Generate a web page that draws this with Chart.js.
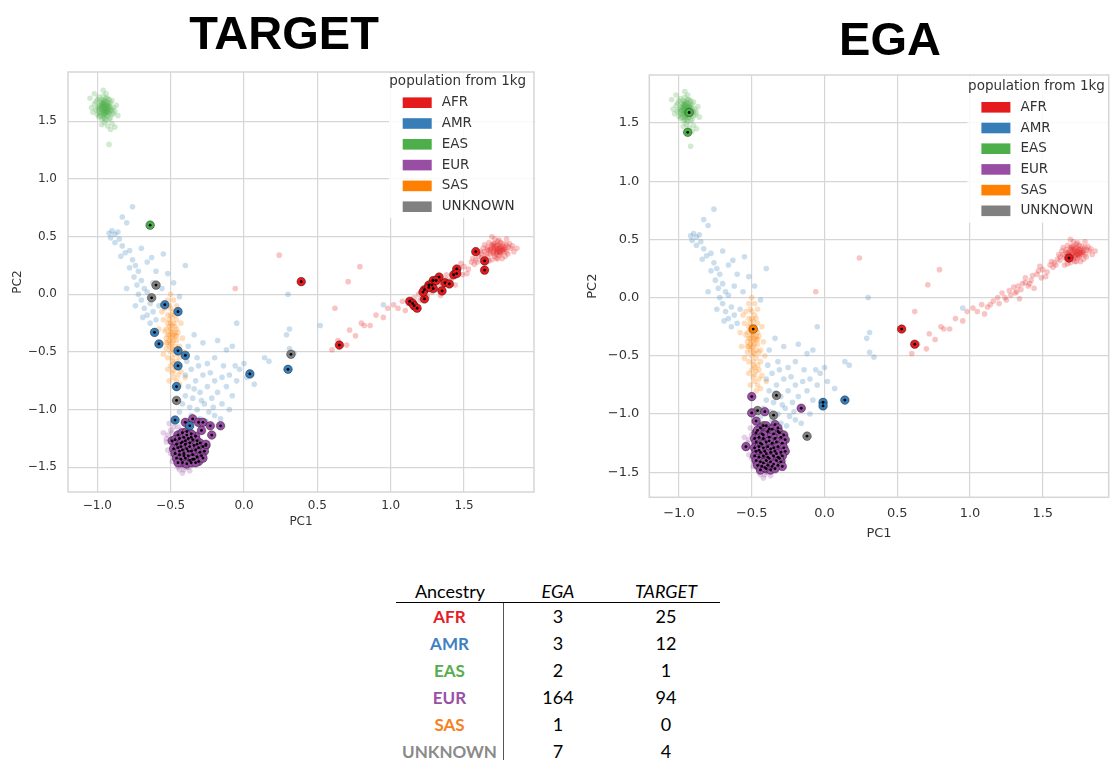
<!DOCTYPE html>
<html lang="en">
<head>
<meta charset="UTF-8">
<title>PCA TARGET vs EGA</title>
<script src="https://cdn.jsdelivr.net/npm/chart.js"></script>
<style>
  body { margin:0; background:#fff; width:1114px; height:760px; position:relative; overflow:hidden; }
  canvas { position:absolute; }
  .big { position:absolute; font-family:"Liberation Sans", Arial, sans-serif; font-weight:bold; font-size:47px; line-height:47px; color:#000; transform:translateX(-50%); white-space:nowrap; }
  #tbl { position:absolute; left:396px; top:581px; width:324px; font-family:Lato, "Open Sans", sans-serif; color:#000; }
  .row { display:flex; height:27px; line-height:27px; }
  .row.head { height:21px; line-height:21px; border-bottom:1.5px solid #000; }
  .cell { width:108px; text-align:center; font-size:18px; box-sizing:border-box; }
  .head .cell.it { font-style:italic; }
  .row.body .cell:first-child { border-right:1.5px solid #555; font-weight:bold; font-size:17px; }
</style>
</head>
<body>
<canvas id="targetChart" width="545" height="535" style="left:0;top:0"></canvas>
<canvas id="egaChart" width="534" height="545" style="left:580px;top:0"></canvas>
<div class="big" style="left:284px;top:9px">TARGET</div>
<div class="big" style="left:890px;top:15px">EGA</div>
<div id="tbl"></div>
<script>
// legend / table categories
var populations = ['AFR', 'AMR', 'EAS', 'EUR', 'SAS', 'UNKNOWN'];
var popColors = ['#e41a1c', '#377eb8', '#4daf4a', '#984ea3', '#ff7f00', '#808080'];
var tableColors = ['#e3202a', '#3f80c2', '#56ad4e', '#9a50a6', '#f5821f', '#8a8a8a'];
var egaCounts = [3, 3, 2, 164, 1, 7];
var targetCounts = [25, 12, 1, 94, 0, 4];
var xTicks = [-1.0, -0.5, 0.0, 0.5, 1.0, 1.5];
var yTicks = [-1.5, -1.0, -0.5, 0.0, 0.5, 1.0, 1.5];

// 1kg reference samples (faint background)
var refEAS = [[-0.95,1.60],[-0.97,1.62],[-0.93,1.58],[-0.96,1.66],[-0.99,1.63],[-0.92,1.63],[-0.94,1.55],[-0.98,1.57],[-0.91,1.60],[-0.95,1.68],
  [-1.01,1.60],[-0.97,1.52],[-0.93,1.70],[-0.90,1.56],[-0.96,1.59],[-0.94,1.64],[-0.98,1.67],[-1.02,1.65],[-0.92,1.52],[-0.89,1.62],
  [-0.95,1.49],[-0.99,1.54],[-0.93,1.61],[-0.96,1.72],[-1.00,1.69],[-0.91,1.66],[-0.94,1.58],[-0.97,1.60],[-0.88,1.59],[-1.03,1.58],
  [-0.95,1.63],[-0.93,1.46],[-0.97,1.47],[-0.90,1.68],[-0.99,1.60],[-0.94,1.74],[-0.92,1.57],[-0.96,1.55],[-0.98,1.64],[-0.95,1.57],
  [-0.93,1.66],[-1.00,1.56],[-0.91,1.53],[-0.97,1.69],[-0.94,1.61],[-0.87,1.64],[-1.04,1.62],[-0.96,1.63],[-0.92,1.60],[-0.95,1.53],
  [-0.94,1.62],[-0.96,1.61],[-0.93,1.59],[-0.97,1.65],[-0.95,1.66],[-0.91,1.43],[-0.92,1.30],
  [-0.95,1.61],[-0.96,1.64],[-0.94,1.59],[-0.97,1.58],[-0.93,1.63],[-0.95,1.56],[-0.98,1.61],[-0.92,1.65],[-0.96,1.57],[-0.94,1.67],
  [-0.97,1.63],[-0.93,1.55],[-0.99,1.58],[-0.91,1.62],[-0.95,1.65],[-0.96,1.53],[-0.94,1.70],[-1.00,1.62],[-0.92,1.58],[-0.97,1.66],
  [-0.95,1.59],[-0.93,1.64],[-0.98,1.55],[-0.90,1.60],[-0.96,1.68],[-1.01,1.67],[-0.89,1.57],[-0.94,1.51],[-0.99,1.71],[-0.92,1.69],
  [-1.05,1.70],[-0.86,1.55],[-0.90,1.48],[-1.02,1.74],[-0.88,1.45],[-0.96,1.77]];
var refAFR = [[1.72,0.38],[1.70,0.40],[1.75,0.36],[1.68,0.35],[1.74,0.42],[1.78,0.39],[1.66,0.41],[1.71,0.33],[1.77,0.44],[1.73,0.46],
  [1.69,0.30],[1.80,0.35],[1.64,0.37],[1.76,0.31],[1.82,0.40],[1.67,0.45],[1.72,0.42],[1.74,0.34],[1.70,0.37],[1.79,0.43],
  [1.62,0.32],[1.65,0.28],[1.60,0.33],[1.84,0.37],[1.71,0.48],[1.77,0.37],[1.73,0.39],[1.68,0.39],[1.75,0.41],[1.69,0.43],
  [1.81,0.44],[1.63,0.40],[1.58,0.30],[1.66,0.33],[1.78,0.33],[1.74,0.47],[1.70,0.44],[1.76,0.40],[1.72,0.35],[1.83,0.42],
  [1.61,0.37],[1.57,0.26],[1.55,0.28],[1.67,0.29],[1.79,0.48],[1.86,0.40],[1.73,0.31],[1.64,0.43],[1.69,0.50],[1.75,0.38],
  [1.72,0.40],[1.74,0.37],[1.70,0.35],[1.76,0.42],[1.71,0.39],[1.73,0.43],[1.69,0.41],[1.75,0.35],[1.78,0.41],[1.67,0.38],
  [1.72,0.36],[1.77,0.39],[1.74,0.40],[1.70,0.42],[1.73,0.37],[1.68,0.37],[1.76,0.38],[1.71,0.44],[1.79,0.37],[1.65,0.35],
  [1.80,0.41],[1.66,0.39],[1.72,0.31],[1.75,0.45],[1.62,0.35],[1.59,0.28],[1.56,0.31],[1.53,0.22],[1.47,0.23],[1.43,0.19],
  [1.38,0.13],[1.35,0.07],[1.31,0.04],[1.27,0.06],[1.24,0.00],[1.19,0.00],[1.14,-0.06],[1.41,0.12],[1.49,0.17],[1.33,0.10],
  [1.50,0.24],[1.46,0.20],[1.52,0.18],[1.42,0.15],[1.48,0.27],[1.40,0.10],[1.36,0.12],[1.44,0.08],[1.32,0.05],[1.38,0.17],
  [1.28,0.02],[1.30,0.09],[1.34,-0.01],[1.25,-0.02],[1.22,0.04],[1.20,-0.05],[1.16,-0.03],[1.12,-0.08],[1.08,-0.06],[1.05,-0.12],
  [1.10,-0.14],[1.02,-0.09],[0.98,-0.12],[0.95,-0.20],[0.90,-0.18],[0.86,-0.27],[0.80,-0.25],[0.76,-0.36],[0.72,-0.31],[0.70,-0.44],
  [0.64,-0.40],[0.60,-0.48],[0.79,0.24],[0.71,0.11],[0.62,-0.12],[0.82,-0.27],[0.24,0.34],[-0.06,0.05]];
var refSAS = [[-0.50,-0.30],[-0.48,-0.35],[-0.52,-0.25],[-0.46,-0.40],[-0.51,-0.45],[-0.49,-0.20],[-0.53,-0.38],[-0.47,-0.28],[-0.50,-0.50],[-0.45,-0.33],
  [-0.54,-0.32],[-0.48,-0.15],[-0.52,-0.55],[-0.46,-0.58],[-0.50,-0.62],[-0.49,-0.42],[-0.44,-0.45],[-0.55,-0.22],[-0.51,-0.10],[-0.47,-0.52],
  [-0.53,-0.47],[-0.49,-0.68],[-0.45,-0.70],[-0.51,-0.75],[-0.47,-0.80],[-0.56,-0.15],[-0.52,-0.05],[-0.48,-0.05],[-0.42,-0.38],[-0.43,-0.25],
  [-0.57,-0.42],[-0.50,-0.38],[-0.48,-0.25],[-0.50,-0.18],[-0.46,-0.22],[-0.53,-0.30],[-0.49,-0.55],[-0.45,-0.62],[-0.52,-0.65],[-0.44,-0.55],
  [-0.47,-0.45],[-0.51,-0.35],[-0.54,-0.12],[-0.58,-0.30],[-0.41,-0.50],[-0.48,-0.72],[-0.44,-0.78],[-0.50,0.00],[-0.55,-0.52],[-0.46,-0.10],
  [-0.49,-0.32],[-0.47,-0.36],[-0.51,-0.28],[-0.49,-0.47],[-0.46,-0.30],[-0.52,-0.42],[-0.48,-0.60],[-0.50,-0.25],[-0.43,-0.67],[-0.40,-0.72],
  [-0.49,-0.37],[-0.50,-0.33],[-0.48,-0.40],[-0.51,-0.40],[-0.47,-0.33],[-0.50,-0.43],[-0.49,-0.27],[-0.52,-0.35],[-0.48,-0.48],[-0.46,-0.36],
  [-0.51,-0.22],[-0.49,-0.58],[-0.47,-0.63],[-0.53,-0.42],[-0.45,-0.47],[-0.50,-0.12],[-0.47,-0.18],[-0.52,-0.18],[-0.48,-0.66],[-0.46,-0.75]];
var refEUR = [[-0.45,-1.20],[-0.50,-1.18],[-0.48,-1.25],[-0.52,-1.22],[-0.46,-1.30],[-0.42,-1.35],[-0.44,-1.40],[-0.47,-1.36],[-0.40,-1.45],[-0.43,-1.48],
  [-0.38,-1.50],[-0.41,-1.52],[-0.36,-1.45],[-0.49,-1.32],[-0.53,-1.28],[-0.45,-1.15],[-0.51,-1.12],[-0.55,-1.20],[-0.48,-1.42],[-0.46,-1.46],
  [-0.39,-1.40],[-0.34,-1.42],[-0.32,-1.38],[-0.30,-1.45],[-0.44,-1.26],[-0.40,-1.30],[-0.50,-1.38],[-0.42,-1.55],[-0.37,-1.33],[-0.47,-1.10],
  [-0.43,-1.18],[-0.35,-1.48],[-0.45,-1.50],[-0.52,-1.35],[-0.28,-1.40],[-0.38,-1.25],[-0.49,-1.45],[-0.41,-1.42],[-0.46,-1.22],[-0.39,-1.47],
  [-0.44,-1.33],[-0.47,-1.28],[-0.42,-1.44],[-0.46,-1.40],[-0.49,-1.20],[-0.53,-1.25],[-0.48,-1.15],[-0.40,-1.50],[-0.37,-1.53],[-0.44,-1.52],
  [-0.50,-1.28],[-0.36,-1.38]];
var refAMR = [[-0.92,0.53],[-0.90,0.55],[-0.88,0.52],[-0.86,0.54],[-0.91,0.49],[-0.88,0.45],[-0.85,0.48],[-0.76,0.76],[-0.83,0.67],[-0.80,0.62],
  [-0.83,0.42],[-0.81,0.36],[-0.84,0.33],[-0.78,0.38],[-0.76,0.30],[-0.74,0.25],[-0.78,0.23],[-0.72,0.20],[-0.75,0.15],[-0.70,0.12],
  [-0.73,0.08],[-0.68,0.05],[-0.72,0.00],[-0.66,0.02],[-0.70,-0.05],[-0.64,-0.08],[-0.68,-0.12],[-0.62,-0.15],[-0.66,-0.18],[-0.60,-0.22],
  [-0.64,-0.25],[-0.58,-0.10],[-0.56,0.05],[-0.60,0.20],[-0.63,0.32],[-0.55,0.35],[-0.70,0.40],[-0.66,0.28],[-0.52,0.18],[-0.48,0.10],
  [-0.40,0.25],[-0.44,-0.02],[-0.62,0.10],[-0.80,0.05],[-0.74,-0.10],[-0.69,-0.20],
  [-0.40,-0.70],[-0.36,-0.65],[-0.38,-0.80],[-0.33,-0.75],[-0.30,-0.85],[-0.35,-0.90],[-0.28,-0.70],[-0.25,-0.80],[-0.22,-0.90],[-0.27,-0.95],
  [-0.32,-1.00],[-0.36,-1.05],[-0.30,-1.08],[-0.24,-1.02],[-0.20,-0.75],[-0.18,-0.85],[-0.15,-0.95],[-0.12,-0.80],[-0.10,-0.70],[-0.08,-0.88],
  [-0.05,-0.75],[-0.03,-0.65],[-0.14,-0.62],[-0.20,-0.55],[-0.25,-0.60],[-0.32,-0.55],[-0.38,-0.45],[-0.34,-0.35],[-0.28,-0.42],[-0.18,-0.40],
  [-0.42,-0.95],[-0.44,-1.02],[-0.40,-0.88],[-0.26,-1.10],[-0.20,-1.05],[-0.10,-1.00],[-0.06,-0.62],[0.00,-0.60],[0.02,-0.72],[-0.16,-1.08],
  [-0.39,-0.58],[-0.12,-0.48],[-0.08,-0.45],[-0.34,-0.82],[-0.29,-0.92],[-0.23,-0.68],[-0.37,-0.98],[-0.31,-0.62],[-0.15,-0.72],[-0.21,-0.98],
  [0.17,-0.58],[0.29,-0.35],[0.31,-0.47],[0.31,-0.30],[0.34,-0.51],[0.30,0.00],[0.52,-0.27],[0.95,-0.09],[-0.05,-0.25],[0.07,-0.78],[0.14,-0.55]];

// TARGET query samples
var targetAFR = [[1.58,0.37],[1.64,0.29],[1.64,0.21],[1.45,0.22],[1.43,0.17],[1.33,0.15],[1.29,0.12],[1.28,0.08],[1.37,0.10],[1.40,0.09],
  [1.26,0.08],[1.29,0.05],[1.23,0.04],[1.26,0.06],[1.23,-0.04],[1.35,0.03],[1.13,-0.06],[1.15,-0.08],[1.16,-0.10],[1.18,-0.12],
  [1.45,0.18],[1.31,0.12],[1.22,0.02],[0.39,0.11],[0.65,-0.44]];
var targetAMR = [[-0.54,-0.09],[-0.45,-0.15],[-0.61,-0.33],[-0.58,-0.43],[-0.45,-0.49],[-0.40,-0.53],[-0.45,-0.62],[-0.46,-0.80],
  [-0.47,-1.09],[-0.37,-1.14],[0.04,-0.69],[0.30,-0.65]];
var targetEAS = [[-0.64,0.60]];
var targetEUR = [[-0.40,-1.11],[-0.35,-1.08],[-0.31,-1.11],[-0.28,-1.11],[-0.29,-1.18],[-0.23,-1.14],[-0.16,-1.14],[-0.22,-1.22],[-0.49,-1.27],[-0.26,-1.31],
  [-0.33,-1.23],[-0.45,-1.22],[-0.42,-1.20],[-0.39,-1.19],[-0.36,-1.21],[-0.47,-1.26],[-0.44,-1.25],[-0.41,-1.24],[-0.38,-1.25],[-0.35,-1.26],
  [-0.32,-1.27],[-0.30,-1.29],[-0.46,-1.30],[-0.43,-1.29],[-0.40,-1.30],[-0.37,-1.29],[-0.34,-1.31],[-0.31,-1.33],[-0.28,-1.32],[-0.48,-1.34],
  [-0.45,-1.33],[-0.42,-1.35],[-0.39,-1.34],[-0.36,-1.36],[-0.33,-1.35],[-0.30,-1.37],[-0.27,-1.36],[-0.47,-1.38],[-0.44,-1.39],[-0.41,-1.38],
  [-0.38,-1.40],[-0.35,-1.39],[-0.32,-1.41],[-0.29,-1.40],[-0.46,-1.42],[-0.43,-1.43],[-0.40,-1.42],[-0.37,-1.44],[-0.34,-1.43],[-0.31,-1.45],
  [-0.42,-1.46],[-0.39,-1.47],[-0.36,-1.46],[-0.45,-1.46],[-0.40,-1.27],[-0.37,-1.32],[-0.43,-1.32],[-0.35,-1.43],[-0.41,-1.40],[-0.38,-1.36],
  [-0.44,-1.36],[-0.32,-1.30],[-0.36,-1.24],[-0.42,-1.28],[-0.39,-1.22],[-0.26,-1.30],[-0.28,-1.42],[-0.33,-1.46]];
var targetSAS = [];
var targetUNK = [[-0.60,0.08],[-0.63,-0.03],[-0.46,-0.92],[0.32,-0.52]];

// EGA query samples
var egaAFR = [[1.68,0.34],[0.53,-0.27],[0.62,-0.40]];
var egaAMR = [[-0.01,-0.90],[-0.01,-0.93],[0.14,-0.88]];
var egaEAS = [[-0.93,1.59],[-0.94,1.42]];
var egaEUR = [[-0.50,-0.85],[-0.50,-0.99],[-0.41,-0.98],[-0.47,-1.06],[-0.16,-0.95],[-0.54,-1.28],[-0.34,-1.09],
  [-0.44,-1.12],[-0.40,-1.10],[-0.36,-1.13],[-0.32,-1.12],
  [-0.47,-1.16],[-0.43,-1.17],[-0.39,-1.15],[-0.35,-1.17],[-0.31,-1.16],[-0.28,-1.18],
  [-0.48,-1.21],[-0.45,-1.20],[-0.42,-1.21],[-0.38,-1.20],[-0.34,-1.21],[-0.30,-1.20],[-0.27,-1.22],
  [-0.47,-1.24],[-0.44,-1.25],[-0.40,-1.24],[-0.36,-1.25],[-0.33,-1.24],[-0.29,-1.25],
  [-0.48,-1.29],[-0.45,-1.28],[-0.42,-1.29],[-0.39,-1.28],[-0.35,-1.29],[-0.32,-1.28],[-0.28,-1.29],
  [-0.47,-1.32],[-0.44,-1.33],[-0.41,-1.32],[-0.37,-1.33],[-0.34,-1.32],[-0.30,-1.33],[-0.27,-1.32],
  [-0.48,-1.36],[-0.45,-1.37],[-0.42,-1.36],[-0.39,-1.37],[-0.35,-1.36],[-0.32,-1.37],[-0.29,-1.36],
  [-0.47,-1.40],[-0.44,-1.41],[-0.40,-1.40],[-0.37,-1.41],[-0.33,-1.40],[-0.30,-1.41],
  [-0.46,-1.44],[-0.43,-1.45],[-0.39,-1.44],[-0.36,-1.45],[-0.32,-1.44],[-0.29,-1.45],
  [-0.44,-1.48],[-0.40,-1.47],[-0.37,-1.48],[-0.34,-1.47],
  [-0.46,-1.14],[-0.42,-1.18],[-0.38,-1.23],[-0.43,-1.26],[-0.37,-1.30],[-0.40,-1.34],[-0.31,-1.38],[-0.38,-1.38],
  [-0.42,-1.42],[-0.35,-1.43],[-0.45,-1.31],[-0.33,-1.34],[-0.41,-1.46]];
var egaSAS = [[-0.49,-0.27]];
var egaUNK = [[-0.33,-0.84],[-0.46,-0.97],[-0.35,-1.01],[-0.42,-1.10],[-0.38,-1.13],[-0.32,-1.15],[-0.12,-1.19]];

var refSets = [refAFR, refAMR, refEAS, refEUR, refSAS, []];
var targetSets = [targetAFR, targetAMR, targetEAS, targetEUR, targetSAS, targetUNK];
var egaSets = [egaAFR, egaAMR, egaEAS, egaEUR, egaSAS, egaUNK];

function toXY(arr) { return arr.map(function (p) { return {x: p[0], y: p[1]}; }); }
function fmt(v) { return v.toFixed(1).replace('-', '\u2212'); }
function rgba(hex, a) {
  var n = parseInt(hex.slice(1), 16);
  return 'rgba(' + (n >> 16) + ',' + ((n >> 8) & 255) + ',' + (n & 255) + ',' + a + ')';
}

var gridColor = '#d6d6d6';

var framePlugin = {
  id: 'frame',
  beforeDatasetsDraw: function (chart) {
    var a = chart.chartArea, ctx = chart.ctx;
    ctx.save();
    ctx.strokeStyle = gridColor;
    ctx.lineWidth = 1.5;
    ctx.strokeRect(a.left, a.top, a.right - a.left, a.bottom - a.top);
    ctx.restore();
  }
};

// legend drawn inside the plot, top right, like the seaborn one
var popLegend = {
  id: 'popLegend',
  afterDatasetsDraw: function (chart, args, o) {
    var a = chart.chartArea, ctx = chart.ctx, r = a.right, t = a.top;
    ctx.save();
    ctx.fillStyle = 'rgba(255,255,255,0.85)';
    ctx.fillRect(r - o.boxW, t + 1, o.boxW - 1, o.boxH);
    ctx.font = '13.5px "DejaVu Sans"';
    ctx.textBaseline = 'middle';
    ctx.textAlign = 'left';
    ctx.fillStyle = '#333';
    ctx.fillText('population from 1kg', r - o.titleOff, t + o.titleY);
    populations.forEach(function (p, i) {
      var y = t + o.rowY + i * o.rowGap;
      ctx.fillStyle = popColors[i];
      ctx.fillRect(r - o.patchOff, y - 5.3, 29, 10.6);
      ctx.fillStyle = '#333';
      ctx.fillText(p, r - o.labelOff, y);
    });
    ctx.restore();
  }
};

function buildChart(id, querySets, c) {
  var datasets = [];
  refSets.forEach(function (d, i) {
    datasets.push({data: toXY(d), backgroundColor: rgba(popColors[i], 0.26), borderWidth: 0, pointRadius: 2.8, order: 3});
  });
  querySets.forEach(function (d, i) {
    datasets.push({data: toXY(d), backgroundColor: popColors[i], borderColor: 'rgba(0,0,0,0.35)', borderWidth: 1, pointRadius: 4.3, order: 2});
    datasets.push({data: toXY(d), backgroundColor: '#000', borderWidth: 0, pointRadius: 1.4, order: 1});
  });
  var tickFont = {family: 'DejaVu Sans', size: c.font};
  return new Chart(document.getElementById(id), {
    type: 'scatter',
    data: {datasets: datasets},
    options: {
      responsive: false,
      animation: false,
      events: [],
      layout: {padding: {top: c.top, right: c.right, left: 0, bottom: 0}},
      plugins: {legend: {display: false}, tooltip: {enabled: false}, popLegend: c.legend},
      scales: {
        x: {
          type: 'linear', min: c.xMin, max: c.xMax,
          afterBuildTicks: function (s) { s.ticks = xTicks.map(function (v) { return {value: v}; }); },
          afterFit: function (s) { s.height = c.xAxisH; },
          grid: {color: gridColor, lineWidth: 1.2, drawTicks: false},
          border: {display: false},
          ticks: {padding: c.xPad, color: '#333', font: tickFont, maxRotation: 0, autoSkip: false, callback: fmt},
          title: {display: true, text: 'PC1', color: '#333', font: tickFont, padding: {top: 0, bottom: c.xTitlePad}}
        },
        y: {
          type: 'linear', min: c.yMin, max: c.yMax,
          afterBuildTicks: function (s) { s.ticks = yTicks.map(function (v) { return {value: v}; }); },
          afterFit: function (s) { s.width = c.yAxisW; },
          grid: {color: gridColor, lineWidth: 1.2, drawTicks: false},
          border: {display: false},
          ticks: {padding: c.yPad, color: '#333', font: tickFont, autoSkip: false, callback: fmt},
          title: {display: true, text: 'PC2', color: '#333', font: tickFont, padding: {top: c.yTitlePad, bottom: 0}}
        }
      }
    },
    plugins: [framePlugin, popLegend]
  });
}

buildChart('targetChart', targetSets, {
  top: 72, right: 11, xMin: -1.2, xMax: 1.977, yMin: -1.714, yMax: 1.928,
  xAxisH: 43, yAxisW: 68, font: 12, xPad: 7, yPad: 11, xTitlePad: 5.8, yTitlePad: 10.8,
  legend: {boxW: 145, boxH: 145, titleOff: 144.7, titleY: 9.7, rowY: 30.7, rowGap: 20.8, patchOff: 131.3, labelOff: 92.3}
});
buildChart('egaChart', egaSets, {
  top: 75, right: 1, xMin: -1.204, xMax: 1.953, yMin: -1.715, yMax: 1.912,
  xAxisH: 47.7, yAxisW: 69.3, font: 13, xPad: 9, yPad: 10, xTitlePad: 4, yTitlePad: 5,
  legend: {boxW: 141.3, boxH: 146.7, titleOff: 140.6, titleY: 11, rowY: 32.3, rowGap: 20.7, patchOff: 127.3, labelOff: 88.3}
});

// summary table
var tbl = document.getElementById('tbl');
var html = '<div class="row head"><div class="cell">Ancestry</div><div class="cell it">EGA</div><div class="cell it">TARGET</div></div>';
populations.forEach(function (p, i) {
  html += '<div class="row body"><div class="cell" style="color:' + tableColors[i] + '">' + p + '</div>' +
    '<div class="cell">' + egaCounts[i] + '</div><div class="cell">' + targetCounts[i] + '</div></div>';
});
tbl.innerHTML = html;
</script>
</body>
</html>
